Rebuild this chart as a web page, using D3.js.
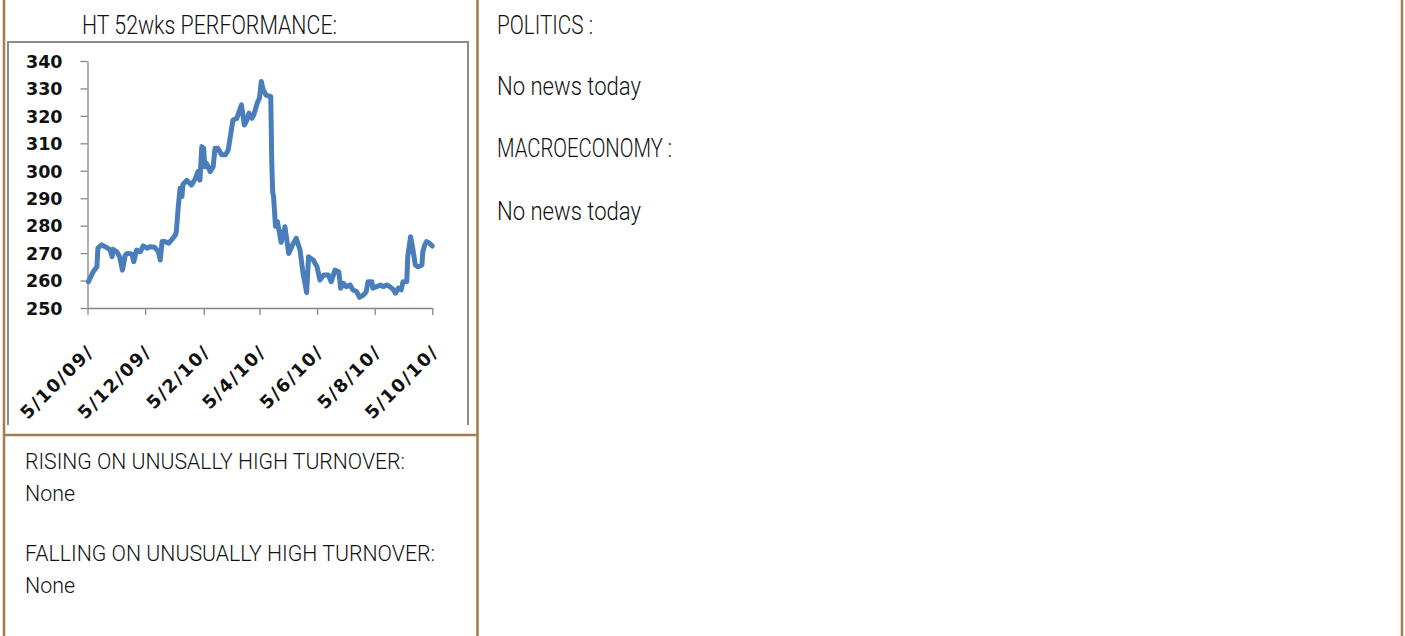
<!DOCTYPE html>
<html><head><meta charset="utf-8">
<script src="https://cdnjs.cloudflare.com/ajax/libs/d3/7.8.5/d3.min.js"></script>
<style>
html,body{margin:0;padding:0;background:#fff;}
svg{display:block;}
.txt{font-family:Roboto,"Liberation Sans",sans-serif;font-weight:300;fill:#111;}
.tick text{font-family:"DejaVu Sans",sans-serif;font-weight:bold;fill:#111;}
</style></head>
<body>
<script>
// ---- data ----
const dates = ["2009-10-06","2009-10-11","2009-10-15","2009-10-16","2009-10-20","2009-10-25","2009-10-29","2009-10-31",
"2009-11-01","2009-11-05","2009-11-08","2009-11-11","2009-11-14","2009-11-16","2009-11-21","2009-11-23","2009-11-26","2009-11-30",
"2009-12-03","2009-12-07","2009-12-10","2009-12-15","2009-12-19","2009-12-21","2009-12-23","2009-12-26","2009-12-30",
"2010-01-02","2010-01-06","2010-01-07","2010-01-09","2010-01-11","2010-01-13","2010-01-14","2010-01-18","2010-01-23","2010-01-27","2010-01-30",
"2010-02-01","2010-02-03","2010-02-05","2010-02-06","2010-02-08","2010-02-12","2010-02-15","2010-02-17","2010-02-20","2010-02-24","2010-02-28",
"2010-03-03","2010-03-08","2010-03-12","2010-03-17","2010-03-20","2010-03-22","2010-03-25","2010-03-28","2010-03-30",
"2010-04-03","2010-04-05","2010-04-07","2010-04-09","2010-04-12","2010-04-17","2010-04-18","2010-04-19","2010-04-20","2010-04-22","2010-04-24","2010-04-28",
"2010-05-02","2010-05-06","2010-05-10","2010-05-14","2010-05-18","2010-05-21","2010-05-25","2010-05-27",
"2010-06-01","2010-06-05","2010-06-08","2010-06-12","2010-06-17","2010-06-20","2010-06-24","2010-06-28","2010-06-30",
"2010-07-03","2010-07-06","2010-07-10","2010-07-13","2010-07-17","2010-07-20","2010-07-24","2010-07-27","2010-07-29",
"2010-08-02","2010-08-03","2010-08-07","2010-08-11","2010-08-14","2010-08-18","2010-08-21","2010-08-25","2010-08-27","2010-08-30",
"2010-09-02","2010-09-04","2010-09-08","2010-09-09","2010-09-12","2010-09-14","2010-09-17","2010-09-20","2010-09-24","2010-09-25","2010-09-27","2010-09-29",
"2010-10-02","2010-10-05"];
const prices = [259.6,263.2,265.0,271.8,273.0,272.1,271.1,268.7,
271.4,270.5,268.7,263.8,269.3,269.9,269.7,266.9,271.1,270.5,
272.6,271.8,272.3,272.1,270.5,267.5,274.2,274.2,273.6,
274.8,276.6,277.8,286.5,293.6,290.6,295.0,296.5,294.8,297.0,299.7,
296.6,308.8,308.2,301.5,302.7,299.7,301.5,308.2,308.2,305.8,305.8,
307.6,318.5,319.1,324.0,316.7,317.9,321.0,319.1,320.3,
325.0,326.4,332.5,329.4,327.6,327.0,303.9,292.4,290.5,279.8,281.5,273.9,
279.6,269.9,273.0,275.4,271.1,263.0,255.6,268.7,
267.5,265.0,260.2,262.0,262.0,259.6,263.8,263.2,257.2,
259.0,257.8,258.4,256.6,255.9,253.9,254.7,255.9,259.6,
259.6,257.2,257.8,258.4,257.8,258.4,257.8,256.6,255.4,257.2,
256.6,259.6,259.6,268.7,276.0,272.3,265.7,265.0,265.7,270.5,273.0,274.2,
273.6,272.6];
const xTickDates = ["2009-10-05","2009-12-05","2010-02-05","2010-04-05","2010-06-05","2010-08-05","2010-10-05"];
const xTickLabels = ["5/10/09/","5/12/09/","5/2/10/","5/4/10/","5/6/10/","5/8/10/","5/10/10/"];
const yTicks = [250,260,270,280,290,300,310,320,330,340];
const chartTitle = "HT 52wks PERFORMANCE:";
const rightTexts = ["POLITICS :","No news today","MACROECONOMY :","No news today"];
const leftTexts = ["RISING ON UNUSALLY HIGH TURNOVER:","None","FALLING ON UNUSUALLY HIGH TURNOVER:","None"];

// ---- drawing ----
const W = 1405, H = 636;
const svg = d3.select("body").append("svg").attr("width", W).attr("height", H);
svg.append("rect").attr("width", W).attr("height", H).attr("fill", "#fff");

const brown = "#a57c4c";
svg.append("line").attr("x1",4).attr("x2",4).attr("y1",0).attr("y2",H).attr("stroke",brown).attr("stroke-width",2.5);
svg.append("line").attr("x1",477.5).attr("x2",477.5).attr("y1",0).attr("y2",H).attr("stroke",brown).attr("stroke-width",2.5);
svg.append("line").attr("x1",1402).attr("x2",1402).attr("y1",0).attr("y2",H).attr("stroke",brown).attr("stroke-width",2.5);
svg.append("line").attr("x1",4).attr("x2",477.5).attr("y1",435).attr("y2",435).attr("stroke",brown).attr("stroke-width",2.5);

svg.append("path").attr("d","M8,425V42H468V425").attr("fill","none").attr("stroke","#8c8c8c").attr("stroke-width",2);

// condensed text helper: fit to measured width
function ctext(str, xx, yy, size, width) {
  return svg.append("text").attr("class","txt").attr("x",xx).attr("y",yy)
    .attr("font-size",size).attr("textLength",width).attr("lengthAdjust","spacingAndGlyphs").text(str);
}
ctext(chartTitle, 82, 34, 26, 255);
const rightY = [34,95,157,220], rightW = [96,144,175,144];
rightTexts.forEach((t,i)=>ctext(t, 497, rightY[i], 26, rightW[i]));
const leftY = [469,501,561,593], leftW = [380,50,410,50];
leftTexts.forEach((t,i)=>ctext(t, 25, leftY[i], 22.5, leftW[i]));

// scales
const parse = d3.utcParse("%Y-%m-%d");
const x = d3.scaleUtc().domain([parse("2009-10-05"), parse("2010-10-05")]).range([87.5, 432.3]);
const y = d3.scaleLinear().domain([250, 340]).range([308, 61]);
const axisColor = "#868686";

const gy = svg.append("g").attr("transform","translate(87.5,0)")
  .call(d3.axisLeft(y).tickValues(yTicks).tickSize(7).tickSizeOuter(0).tickPadding(18));
gy.selectAll("path,line").attr("stroke",axisColor).attr("stroke-width",1.3);
gy.selectAll("text").attr("font-size",17.5).attr("dy","0.36em");

const gx = svg.append("g").attr("transform","translate(0,308)")
  .call(d3.axisBottom(x).tickValues(xTickDates.map(parse)).tickFormat((d,i)=>xTickLabels[i]).tickSize(7).tickSizeOuter(0));
gx.selectAll("path,line").attr("stroke",axisColor).attr("stroke-width",1.3);
gx.selectAll("text").attr("font-size",18).attr("letter-spacing","1.6px")
  .attr("text-anchor","end").attr("dy",0).attr("y",0)
  .attr("transform","translate(7,45) rotate(-45)");

// line
const data = dates.map((d,i)=>({date:parse(d), v:prices[i]}));
svg.append("path").datum(data)
  .attr("fill","none").attr("stroke","#4a7ebb").attr("stroke-width",5)
  .attr("stroke-linejoin","round").attr("stroke-linecap","round")
  .attr("d", d3.line().x(d=>x(d.date)).y(d=>y(d.v)));
</script>
</body></html>
